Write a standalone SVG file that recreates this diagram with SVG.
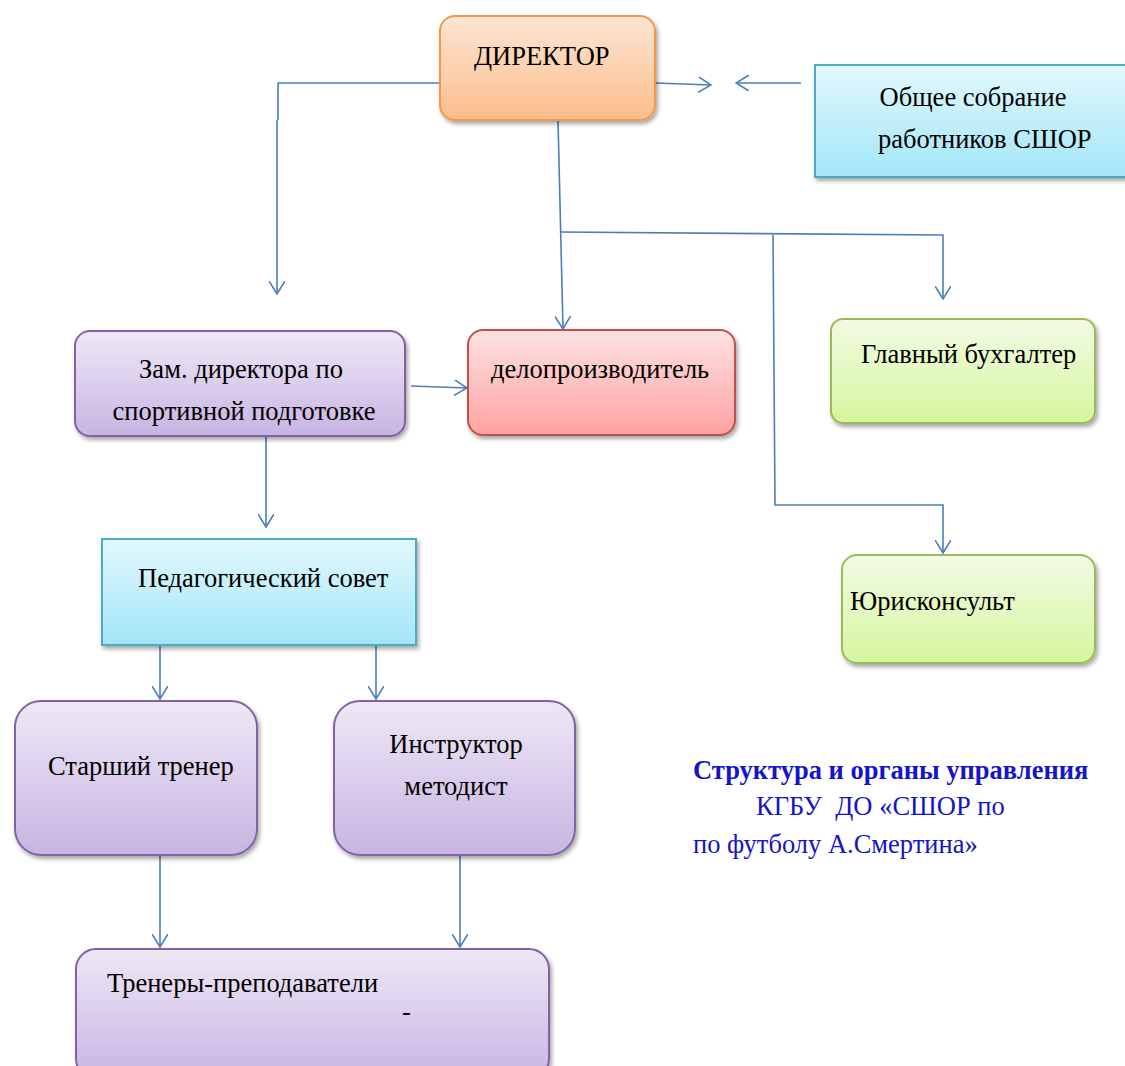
<svg xmlns="http://www.w3.org/2000/svg" width="1125" height="1066" viewBox="0 0 1125 1066">
<style>
text{font-family:"Liberation Serif","Times New Roman",serif;font-size:26.5px;fill:#000}
.cap{fill:#1414c8}
.conn{fill:none;stroke:#4a7ebb;stroke-width:1.6}
</style>
<defs>
<filter id="sh" x="-10%" y="-10%" width="125%" height="130%"><feDropShadow dx="2" dy="3" stdDeviation="2" flood-color="#000" flood-opacity="0.35"/></filter>
<linearGradient id="gO" x1="0" y1="0" x2="0" y2="1"><stop offset="0" stop-color="#fde6d4"/><stop offset="1" stop-color="#fbbd8b"/></linearGradient>
<linearGradient id="gB" x1="0" y1="0" x2="0" y2="1"><stop offset="0" stop-color="#e3f8fd"/><stop offset="1" stop-color="#a2e6f8"/></linearGradient>
<linearGradient id="gP" x1="0" y1="0" x2="0" y2="1"><stop offset="0" stop-color="#eee8f6"/><stop offset="1" stop-color="#c8b4e2"/></linearGradient>
<linearGradient id="gR" x1="0" y1="0" x2="0" y2="1"><stop offset="0" stop-color="#fde2e2"/><stop offset="1" stop-color="#ffa2a2"/></linearGradient>
<linearGradient id="gG" x1="0" y1="0" x2="0" y2="1"><stop offset="0" stop-color="#f2fbe4"/><stop offset="1" stop-color="#d5f69e"/></linearGradient>
<marker id="ar" viewBox="0 0 14 16" refX="13" refY="8" markerWidth="14" markerHeight="16" markerUnits="userSpaceOnUse" orient="auto"><path d="M0,0 L13,8 L0,16" fill="none" stroke="#4a7ebb" stroke-width="1.6"/></marker>
</defs>

<g id="connectors">
<path class="conn" d="M440,83 H278 V120 M277,120 V294" marker-end="url(#ar)"/>
<path class="conn" d="M655,83 L711,85" marker-end="url(#ar)"/>
<path class="conn" d="M801,83 H736" marker-end="url(#ar)"/>
<path class="conn" d="M558,120 L563,329" marker-end="url(#ar)"/>
<path class="conn" d="M560,232 L943,235 V299" marker-end="url(#ar)"/>
<path class="conn" d="M773,235 L775,505 H943 V553" marker-end="url(#ar)"/>
<path class="conn" d="M411,386 L467,388" marker-end="url(#ar)"/>
<path class="conn" d="M266,436 V527" marker-end="url(#ar)"/>
<path class="conn" d="M160,645 V699" marker-end="url(#ar)"/>
<path class="conn" d="M376,645 V699" marker-end="url(#ar)"/>
<path class="conn" d="M160,855 V947" marker-end="url(#ar)"/>
<path class="conn" d="M460,855 V947" marker-end="url(#ar)"/>
</g>

<g id="director">
<rect x="440" y="16" width="215" height="104" rx="15" fill="url(#gO)" stroke="#f79646" stroke-width="2" filter="url(#sh)"/>
<text x="474" y="65">ДИРЕКТОР</text>
</g>

<g id="assembly">
<rect x="815" y="65" width="320" height="112" fill="url(#gB)" stroke="#4bacc6" stroke-width="2" filter="url(#sh)"/>
<text x="973" y="106" text-anchor="middle">Общее собрание</text>
<text x="878" y="148">работников СШОР</text>
</g>

<g id="deputy">
<rect x="75" y="331" width="330" height="105" rx="15" fill="url(#gP)" stroke="#8064a2" stroke-width="2" filter="url(#sh)"/>
<text x="241" y="378" text-anchor="middle">Зам. директора по</text>
<text x="244" y="420" text-anchor="middle">спортивной подготовке</text>
</g>

<g id="clerk">
<rect x="468" y="330" width="267" height="105" rx="15" fill="url(#gR)" stroke="#c0504d" stroke-width="2" filter="url(#sh)"/>
<text x="491" y="378">делопроизводитель</text>
</g>

<g id="accountant">
<rect x="831" y="319" width="264" height="104" rx="12" fill="url(#gG)" stroke="#9bbb59" stroke-width="2" filter="url(#sh)"/>
<text x="861" y="363">Главный бухгалтер</text>
</g>

<g id="lawyer">
<rect x="842" y="555" width="253" height="108" rx="15" fill="url(#gG)" stroke="#9bbb59" stroke-width="2" filter="url(#sh)"/>
<text x="850" y="610">Юрисконсульт</text>
</g>

<g id="council">
<rect x="102" y="539" width="314" height="106" fill="url(#gB)" stroke="#4bacc6" stroke-width="2" filter="url(#sh)"/>
<text x="138" y="587">Педагогический совет</text>
</g>

<g id="senior-coach">
<rect x="15" y="701" width="242" height="154" rx="26" fill="url(#gP)" stroke="#8064a2" stroke-width="2" filter="url(#sh)"/>
<text x="48" y="775">Старший тренер</text>
</g>

<g id="instructor">
<rect x="334" y="701" width="241" height="154" rx="26" fill="url(#gP)" stroke="#8064a2" stroke-width="2" filter="url(#sh)"/>
<text x="456" y="753" text-anchor="middle">Инструктор</text>
<text x="456" y="795" text-anchor="middle">методист</text>
</g>

<g id="coaches">
<rect x="76" y="949" width="473" height="130" rx="20" fill="url(#gP)" stroke="#8064a2" stroke-width="2" filter="url(#sh)"/>
<text x="107" y="992">Тренеры-преподаватели</text>
<text x="402" y="1020">-</text>
</g>

<g id="caption">
<text class="cap" x="693" y="779" font-weight="bold">Структура и органы управления</text>
<text class="cap" x="756" y="815">КГБУ&#160; ДО «СШОР по</text>
<text class="cap" x="693" y="853">по футболу А.Смертина»</text>
</g>
</svg>
